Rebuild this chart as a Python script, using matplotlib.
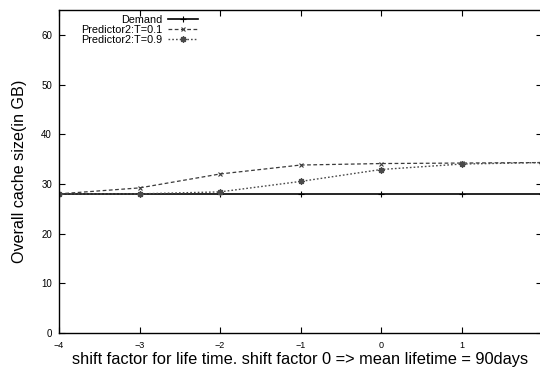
import matplotlib
matplotlib.use('agg')
import matplotlib.pyplot as plt

plt.rcParams['font.family'] = ['Liberation Sans', 'DejaVu Sans']

# shift factors and cache sizes (GB)
shift = [-4, -3, -2, -1, 0, 1, 2]
demand = [28.0, 28.0, 28.0, 28.0, 28.0, 28.0, 28.0]
pred_t01 = [28.0, 29.2, 32.0, 33.8, 34.1, 34.2, 34.3]
pred_t09 = [28.0, 28.0, 28.4, 30.5, 32.9, 34.0, 34.3]

fig = plt.figure(figsize=(5.4, 3.71), dpi=100)
ax = fig.add_axes([59 / 540, 1 - 333 / 371, 483 / 540, 323 / 371])

ax.plot(shift, demand, color='black', linestyle='-', linewidth=1.2,
        marker='+', markersize=4, markeredgewidth=0.8, label='Demand')
ax.plot(shift, pred_t01, color='#3a3a3a', linestyle=(0, (3, 2)), linewidth=0.9,
        marker='x', markersize=3.5, markeredgewidth=0.8, label='Predictor2:T=0.1')
ax.plot(shift, pred_t09, color='#4a4a4a', linestyle=(0, (1.2, 1.5)), linewidth=1.0,
        marker=(8, 2, 0), markersize=4.5, markeredgewidth=1.0, label='Predictor2:T=0.9')

ax.set_xlim(-4, 2)
ax.set_ylim(0, 65)
ax.set_xticks([-4, -3, -2, -1, 0, 1, 2])
ax.set_yticks([0, 10, 20, 30, 40, 50, 60])
ax.tick_params(direction='in', length=4, width=0.8,
               top=True, right=True)
ax.tick_params(axis='x', labelsize=6.5, pad=6)
ax.tick_params(axis='y', labelsize=7, pad=5)
for s in ax.spines.values():
    s.set_linewidth(1.0)

ax.set_xlabel('shift factor for life time. shift factor 0 => mean lifetime = 90days',
              fontsize=11.8, labelpad=1)
ax.set_ylabel('Overall cache size(in GB)', fontsize=11.6, labelpad=10)

leg = ax.legend(loc='upper left', bbox_to_anchor=(0.026, 1.015), frameon=False,
                markerfirst=False, fontsize=7.8, handlelength=2.8,
                labelspacing=0.0, handletextpad=0.5)

plt.savefig('out.png', dpi=100)
